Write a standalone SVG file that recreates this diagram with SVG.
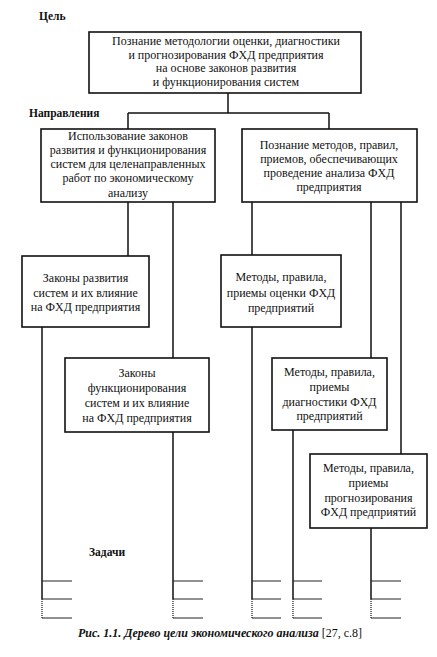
<svg xmlns="http://www.w3.org/2000/svg" width="437" height="657" viewBox="0 0 437 657" font-family="'Liberation Serif', 'DejaVu Serif', serif">
<style>
.box{fill:#fff;stroke:#111;stroke-width:1.6}
.ln{stroke:#111;stroke-width:1.5;fill:none}
.dot{stroke:#222;stroke-width:1.3;stroke-dasharray:1 1;fill:none}
.tk{stroke:#222;stroke-width:1;fill:none}
text{font-family:'Liberation Serif','DejaVu Serif',serif;font-size:12px;fill:#111}
.t{text-anchor:middle}
.lbl{font-weight:bold;font-size:11.5px}
</style>
<rect width="437" height="657" fill="#fff"/>
<g id="connectors">
<path class="ln" d="M228,93V113M128,113H329M128,113V129M329,113V129"/>
<path class="ln" d="M128,202V256M173,202V358M252,202V255M371,202V358M401,202V454"/>
<path class="ln" d="M42,327V599M173,432V599M252,327V599M293,430V599M371,528V599"/>
<path class="dot" d="M42,599V618M173,599V618M252,599V618M293,599V618M371,599V618"/>
<path class="tk" d="M42,581H72M42,599H72M42,618H72M173,581H203M173,599H203M173,618H203M252,581H281M252,599H281M252,618H281M293,581H322M293,599H322M293,618H322M371,581H401M371,599H401M371,618H401"/>
</g>
<g id="labels">
<text class="lbl" x="39" y="20">Цель</text>
<text class="lbl" x="29" y="117">Направления</text>
<text class="lbl" x="89" y="556">Задачи</text>
</g>
<g id="goal">
<rect class="box" x="89" y="32" width="272" height="61"/>
<text class="t" x="226" y="45">Познание методологии оценки, диагностики</text>
<text class="t" x="226" y="58.5">и прогнозирования ФХД предприятия</text>
<text class="t" x="226" y="72">на основе законов развития</text>
<text class="t" x="226" y="85.5">и функционирования систем</text>
</g>
<g id="dir1">
<rect class="box" x="41" y="129" width="174" height="73"/>
<text class="t" x="128" y="140">Использование законов</text>
<text class="t" x="128" y="154">развития и функционирования</text>
<text class="t" x="128" y="168">систем для целенаправленных</text>
<text class="t" x="128" y="182">работ  по экономическому</text>
<text class="t" x="128" y="197">анализу</text>
</g>
<g id="dir2">
<rect class="box" x="242" y="129" width="175" height="73"/>
<text class="t" x="329" y="149">Познание методов, правил,</text>
<text class="t" x="329" y="163">приемов, обеспечивающих</text>
<text class="t" x="329" y="177">проведение анализа ФХД</text>
<text class="t" x="329" y="191">предприятия</text>
</g>
<g id="law1">
<rect class="box" x="22" y="256" width="127" height="71"/>
<text class="t" x="85.5" y="282">Законы развития</text>
<text class="t" x="85.5" y="296.5">систем и их влияние</text>
<text class="t" x="85.5" y="311">на ФХД предприятия</text>
</g>
<g id="law2">
<rect class="box" x="65" y="358" width="144" height="74"/>
<text class="t" x="137" y="377">Законы</text>
<text class="t" x="137" y="392">функционирования</text>
<text class="t" x="137" y="407">систем и их влияние</text>
<text class="t" x="137" y="422">на ФХД предприятия</text>
</g>
<g id="m1">
<rect class="box" x="221" y="255" width="120" height="72"/>
<text class="t" x="281" y="281">Методы, правила,</text>
<text class="t" x="281" y="296.5">приемы оценки ФХД</text>
<text class="t" x="281" y="312">предприятий</text>
</g>
<g id="m2">
<rect class="box" x="272" y="358" width="115" height="72"/>
<text class="t" x="329.5" y="376">Методы, правила,</text>
<text class="t" x="329.5" y="391">приемы</text>
<text class="t" x="329.5" y="406">диагностики ФХД</text>
<text class="t" x="329.5" y="420">предприятий</text>
</g>
<g id="m3">
<rect class="box" x="310" y="454" width="117" height="74"/>
<text class="t" x="368.5" y="472">Методы, правила,</text>
<text class="t" x="368.5" y="487">приемы</text>
<text class="t" x="368.5" y="502">прогнозирования</text>
<text class="t" x="368.5" y="516">ФХД предприятий</text>
</g>
<g id="caption">
<text x="78" y="637"><tspan font-style="italic" font-weight="bold">Рис. 1.1. Дерево цели экономического анализа</tspan> [27, с.8]</text>
</g>
</svg>
